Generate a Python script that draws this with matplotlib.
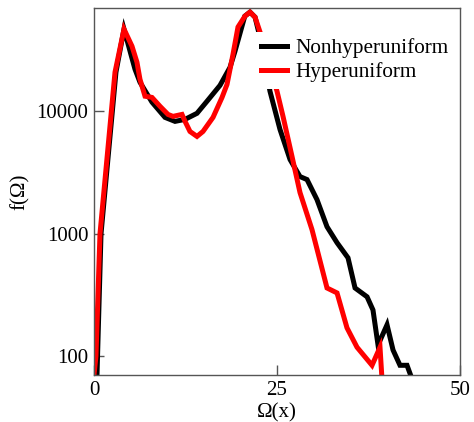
import matplotlib
matplotlib.use("Agg")
from matplotlib import pyplot as plt

# Nonhyperuniform (black)
x_non = [0.41, 0.96, 3.0, 4.1, 5.6, 6.28, 7.92, 9.7, 11.07, 12.43, 14.07, 15.44,
         17.21, 18.58, 19.26, 20.6, 21.31, 22.0, 22.6, 24.04, 25.41, 26.78, 28.14,
         29.1, 30.46, 31.83, 33.2, 34.7, 35.66, 37.3, 38.11, 38.8, 40.03, 40.85,
         41.8, 42.76, 43.44]
y_non = [70, 1000, 20900, 47000, 22100, 17300, 11900, 8930, 8280, 8600, 9640, 12100,
         16300, 22900, 31000, 60000, 64800, 58900, 42000, 14600, 7110, 4040, 2930,
         2770, 1900, 1140, 844, 635, 360, 305, 238, 123, 180, 112,
         84, 84, 65]

# Hyperuniform (red)
x_hyp = [0.0, 0.27, 0.82, 2.87, 4.1, 5.19, 5.87, 6.28, 6.97, 7.92, 9.02, 10.11,
         10.79, 12.02, 12.43, 13.11, 14.07, 14.89, 16.26, 17.49, 18.17, 18.99,
         19.67, 20.63, 21.31, 22.0, 22.68, 25.0, 25.82, 27.05, 28.14, 29.78,
         31.83, 33.2, 34.56, 35.93, 37.98, 39.07, 39.34]
y_hyp = [70, 100, 1000, 20900, 47000, 34100, 25200, 18300, 13300, 13000, 11000, 9440,
         9100, 9440, 8300, 6850, 6240, 6850, 8930, 13000, 16600, 29300,
         48900, 60100, 64800, 58900, 44500, 14600, 9100, 4280, 2170, 1080,
         360, 328, 170, 118, 84, 118, 65]

yticks = [100, 1000, 10000]
ytick_labels = ["100", "1000", "10000"]
xticks = [0, 25, 50]
xtick_labels = ["0", "25", "50"]

plt.rcParams["font.family"] = ["Liberation Serif", "DejaVu Serif"]

fig = plt.figure(figsize=(4.74, 4.22), dpi=100)
ax = fig.add_axes([0.1983, 0.1114, 0.7722, 0.8697])

ax.plot(x_non, y_non, color="black", lw=3.6, label="Nonhyperuniform", solid_joinstyle="miter")
ax.plot(x_hyp, y_hyp, color="#ff0000", lw=3.6, label="Hyperuniform", solid_joinstyle="miter")

ax.set_yscale("log")
ax.set_xlim(0, 50)
ax.set_ylim(70, 70000)
ax.minorticks_off()
ax.set_yticks(yticks)
ax.set_yticklabels(ytick_labels)
ax.set_xticks(xticks)
ax.set_xticklabels(xtick_labels)
ax.tick_params(direction="in", length=7, width=1, color="#555555", labelsize=15, pad=4)

for s in ax.spines.values():
	s.set_color("#555555")
	s.set_linewidth(1)

ax.set_xlabel("Ω(x)", fontsize=15, labelpad=3)
ax.set_ylabel("f(Ω)", fontsize=15, labelpad=5)

leg = ax.legend(loc="upper left", bbox_to_anchor=(0.44, 0.935), fontsize=15.3,
                frameon=True, fancybox=False, edgecolor="none", facecolor="white",
                framealpha=1, handlelength=1.2, handletextpad=0.4, labelspacing=0.2,
                borderpad=0.3, borderaxespad=0)

fig.savefig("out.png", dpi=100)
